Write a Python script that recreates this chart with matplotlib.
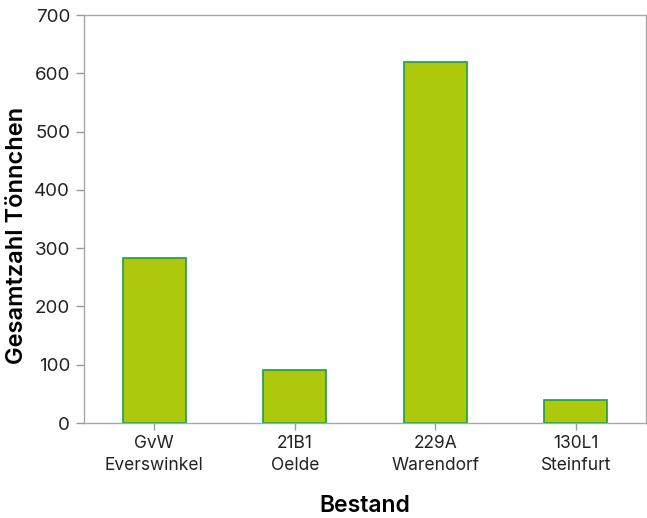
import matplotlib.pyplot as plt

plt.rcParams['font.family'] = ['Inter', 'DejaVu Sans']

# data
categories = ['GvW\nEverswinkel', '21B1\nOelde', '229A\nWarendorf', '130L1\nSteinfurt']
totals = [283, 91, 619, 40]

fig = plt.figure(figsize=(6.47, 5.18), dpi=100)
ax = fig.add_axes([84 / 647, 95 / 518, 562 / 647, 408 / 518])

x = range(len(categories))
ax.bar(x, totals, width=0.45, color='#aec90c', edgecolor='#1a9e4a', linewidth=1.2)

ax.set_xlim(-0.5, len(categories) - 0.5)
ax.set_ylim(0, 700)
ax.set_yticks(range(0, 701, 100))
ax.set_xticks(list(x))
ax.set_xticklabels(categories, fontsize=12.5, color='#222222', linespacing=1.4)
ax.tick_params(axis='y', labelsize=13.5)
ax.tick_params(colors='#999999', length=6, width=1)
ax.tick_params(axis='y', labelcolor='#222222', pad=4)
ax.tick_params(axis='x', labelcolor='#222222', length=5)

for s in ax.spines.values():
    s.set_color('#a8a8a8')
    s.set_linewidth(1)

ax.set_xlabel('Bestand', fontsize=16.5, fontweight='semibold', labelpad=15)
ax.set_ylabel('Gesamtzahl Tönnchen', fontsize=17, fontweight='semibold')
ax.yaxis.set_label_coords(-0.1, 0.46)

fig.savefig('out.png', dpi=100)
